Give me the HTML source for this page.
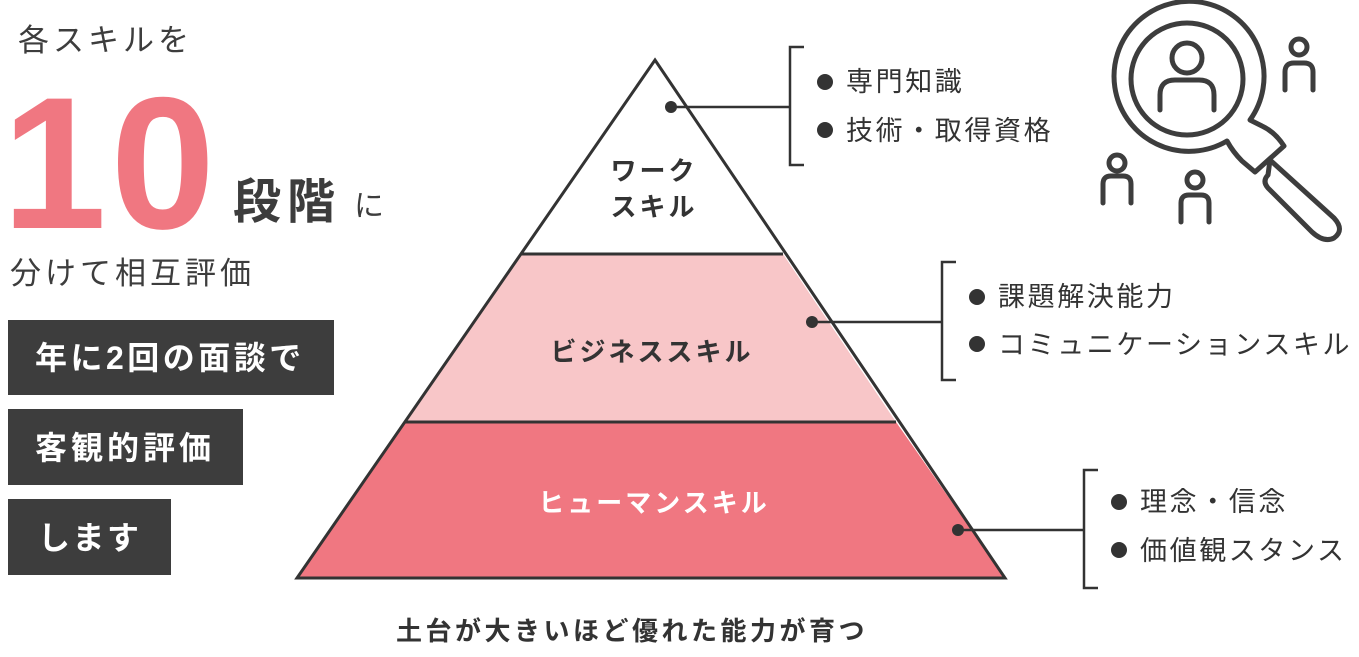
<!DOCTYPE html>
<html><head><meta charset="utf-8"><style>
html,body{margin:0;padding:0;background:#fff;}
svg text{font-family:"Liberation Sans","Noto Sans CJK JP",sans-serif;}
</style></head><body>
<svg width="1359" height="652" viewBox="0 0 1359 652" xmlns="http://www.w3.org/2000/svg">
<!-- left -->
<text x="18" y="51" font-size="31" fill="#3d3d3d" letter-spacing="4">各スキルを</text>
<text x="2" y="228" font-size="188" font-weight="bold" fill="#f07781" letter-spacing="4">10</text>
<text x="233" y="218" font-size="48" font-weight="bold" fill="#3d3d3d" letter-spacing="6">段階</text>
<text x="354" y="216" font-size="30" fill="#3d3d3d">に</text>
<text x="10" y="284" font-size="31" fill="#3d3d3d" letter-spacing="4">分けて相互評価</text>
<rect x="8" y="320" width="326" height="75" fill="#3d3d3d"/>
<text x="35" y="369" font-size="32" font-weight="bold" fill="#fff" letter-spacing="3.5">年に2回の面談で</text>
<rect x="8" y="409" width="235" height="76" fill="#3d3d3d"/>
<text x="35" y="459" font-size="32" font-weight="bold" fill="#fff" letter-spacing="4">客観的評価</text>
<rect x="8" y="499" width="163" height="76" fill="#3d3d3d"/>
<text x="38" y="549" font-size="32" font-weight="bold" fill="#fff" letter-spacing="2.5">します</text>
<!-- pyramid -->
<polygon points="655,60 783,254 521,254" fill="#fff"/>
<polygon points="521,254 783,254 896,422 405,422" fill="#f8c6c8"/>
<polygon points="405,422 896,422 1005,578 297,578" fill="#f07781"/>
<polygon points="655,60 1005,578 297,578" fill="none" stroke="#333" stroke-width="3"/>
<line x1="521" y1="254" x2="783" y2="254" stroke="#333" stroke-width="3"/>
<line x1="405" y1="422" x2="896" y2="422" stroke="#333" stroke-width="3"/>
<g font-size="26" font-weight="bold" text-anchor="middle" fill="#333" letter-spacing="3">
<text x="654" y="180">ワーク</text>
<text x="654" y="216">スキル</text>
<text x="652" y="361">ビジネススキル</text>
<text x="654" y="512" fill="#fff">ヒューマンスキル</text>
</g>
<!-- connectors -->
<g stroke="#333" stroke-width="2.5" fill="none">
<line x1="671" y1="107" x2="790" y2="107"/>
<polyline points="804,47 790,47 790,165 804,165"/>
<line x1="812" y1="322" x2="942" y2="322"/>
<polyline points="956,262 942,262 942,380 956,380"/>
<line x1="958" y1="530" x2="1084" y2="530"/>
<polyline points="1098,470 1084,470 1084,588 1098,588"/>
</g>
<g fill="#333">
<circle cx="671" cy="107" r="6"/><circle cx="812" cy="322" r="6"/><circle cx="958" cy="530" r="6"/>
<circle cx="825" cy="82" r="8"/><circle cx="825" cy="130" r="8"/>
<circle cx="977" cy="297" r="8"/><circle cx="977" cy="344" r="8"/>
<circle cx="1119" cy="502" r="8"/><circle cx="1119" cy="550" r="8"/>
</g>
<g font-size="27" fill="#333" letter-spacing="2.6">
<text x="846" y="91">専門知識</text>
<text x="846" y="140">技術・取得資格</text>
<text x="998" y="306">課題解決能力</text>
<text x="998" y="354">コミュニケーションスキル</text>
<text x="1140" y="511">理念・信念</text>
<text x="1140" y="560">価値観スタンス</text>
</g>
<text x="632" y="640" font-size="26" font-weight="bold" fill="#333" text-anchor="middle" letter-spacing="3.5">土台が大きいほど優れた能力が育つ</text>
<!-- icon -->
<g stroke="#3d3d3d" stroke-width="5" fill="none" stroke-linecap="round" stroke-linejoin="round">
<path d="M1227,141 A75,75 0 1,1 1250,120 L1262,126 Q1275,132 1284,146 L1255,172 L1242,161 Q1233,152 1227,141 Z"/>
<circle cx="1187" cy="79" r="56"/>
<circle cx="1187" cy="58" r="15"/>
<path d="M1160,110 V95 Q1160,80 1175,80 H1199 Q1214,80 1214,95 V110"/>
<path d="M1270,160 L1334,218 Q1345,230 1334,238 Q1324,243 1312,232 L1268,188 Q1262,181 1268,175 Z"/>
<circle cx="1299" cy="47" r="8"/>
<path d="M1285,90 V72 Q1285,63 1294,63 H1304 Q1313,63 1313,72 V90"/>
<circle cx="1117" cy="163" r="8"/>
<path d="M1103,203 V184 Q1103,176 1111,176 H1123 Q1131,176 1131,184 V203"/>
<circle cx="1195" cy="180" r="8"/>
<path d="M1181,222 V203 Q1181,195 1189,195 H1201 Q1209,195 1209,203 V222"/>
</g>
</svg>
</body></html>
